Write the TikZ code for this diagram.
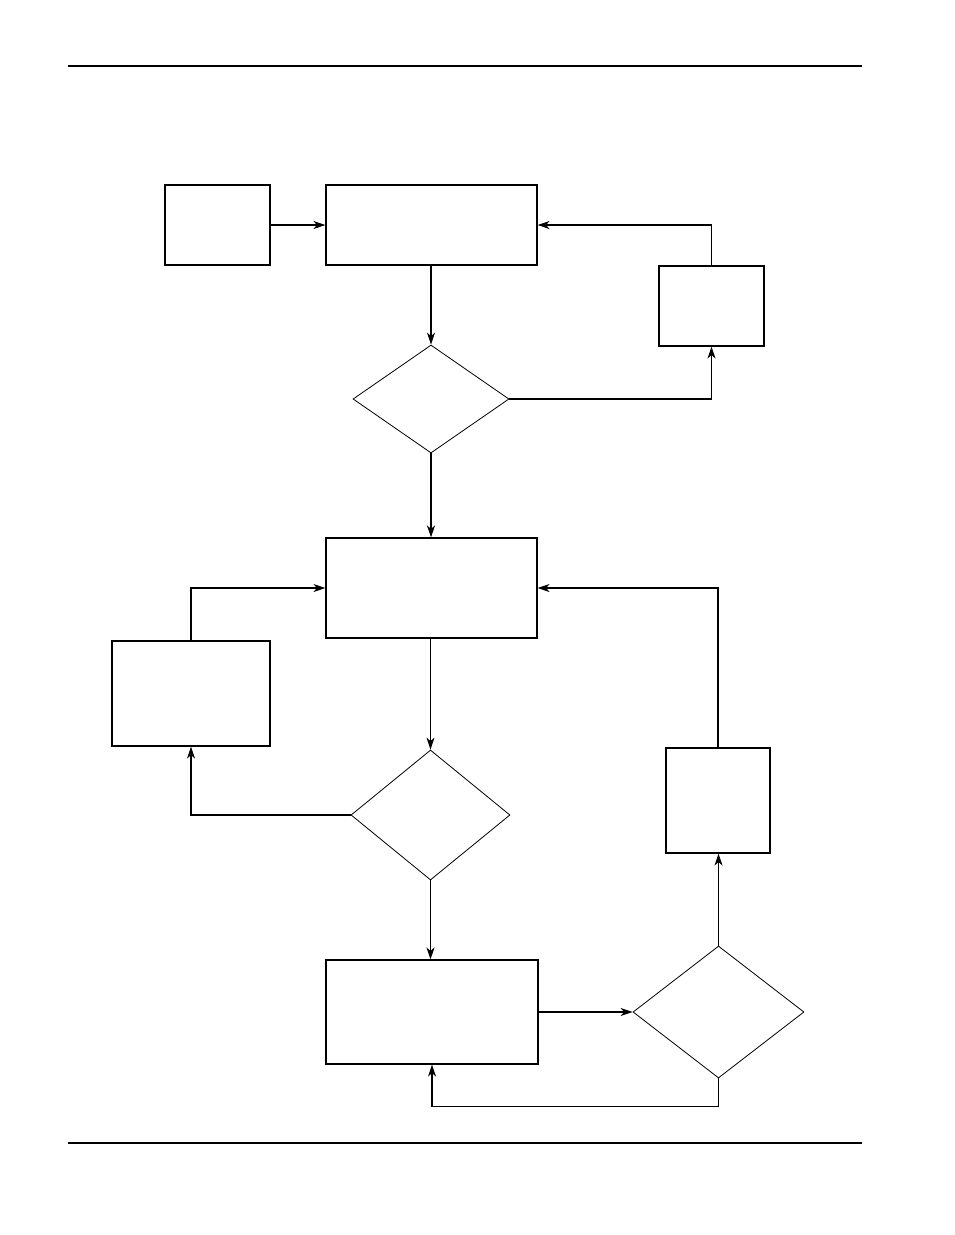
\documentclass[tikz,border=0pt]{standalone}
\usetikzlibrary{shapes.geometric,arrows.meta}
\begin{document}
\begin{tikzpicture}[x=1pt,y=-1pt,
  box/.style={draw,rectangle,inner sep=0pt,line width=1.1pt},
  dia/.style={draw,diamond,inner sep=0pt,line width=0.8pt},
  conn/.style={line width=1.1pt,-{Stealth[length=12pt,width=8pt,inset=3.5pt]}},
  rule/.style={line width=1.2pt}]
\useasboundingbox (0,0) rectangle (954,1235);
% page rules
\coordinate (r1a) at (68,66); \coordinate (r1b) at (862,66);
\coordinate (r2a) at (68,1143); \coordinate (r2b) at (862,1143);
\draw[rule] (r1a) -- (r1b);
\draw[rule] (r2a) -- (r2b);
% nodes
\node[box,minimum width=105pt,minimum height=80pt] (A) at (217.5,225) {};
\node[box,minimum width=211pt,minimum height=80pt] (B) at (431.5,225) {};
\node[box,minimum width=105pt,minimum height=80pt] (C) at (711.5,306) {};
\node[dia,minimum width=156pt,minimum height=108pt] (D1) at (431,399) {};
\node[box,minimum width=211pt,minimum height=100pt] (E) at (431.5,588) {};
\node[box,minimum width=158pt,minimum height=105pt] (F) at (191,693.5) {};
\node[dia,minimum width=159pt,minimum height=130pt] (D2) at (430.5,815) {};
\node[box,minimum width=104pt,minimum height=105pt] (G) at (718,800.5) {};
\node[box,minimum width=212pt,minimum height=104pt] (H) at (432,1012) {};
\node[dia,minimum width=171pt,minimum height=132pt] (D3) at (718.5,1012) {};
% connectors
\draw[conn] (A) -- (B);
\draw[conn] (C.north) |- (B.east);
\draw[conn] (B.south -| D1.north) -- (D1.north);
\draw[conn] (D1.east) -| (C.south);
\draw[conn] (D1.south) -- (D1.south |- E.north);
\draw[conn] (F.north) |- (E.west);
\draw[conn] (E.south -| D2.north) -- (D2.north);
\draw[conn] (D2.west) -| (F.south);
\draw[conn] (D2.south) -- (D2.south |- H.north);
\draw[conn] (H.east) -- (D3.west);
\draw[conn] (D3.north) -- (D3.north |- G.south);
\draw[conn] (G.north) |- (E.east);
\path (D3.south) ++(0,28) coordinate (k);
\draw[conn] (D3.south) -- (k) -| (H.south);
\end{tikzpicture}
\end{document}
